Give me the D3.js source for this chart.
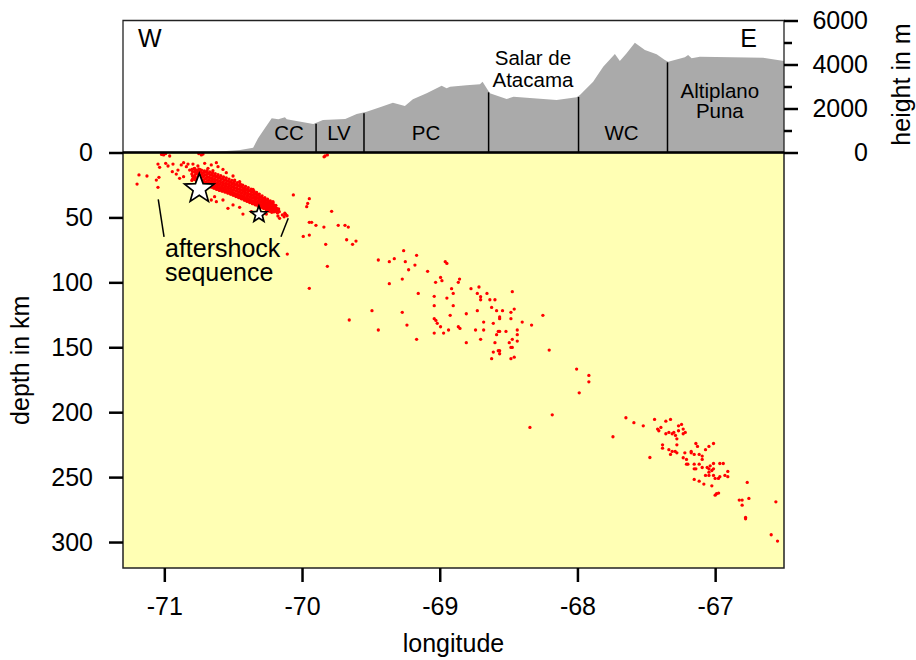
<!DOCTYPE html>
<html>
<head>
<meta charset="utf-8">
<script src="https://cdnjs.cloudflare.com/ajax/libs/d3/7.8.5/d3.min.js"></script>
<style>
  body { margin: 0; background: #fff; }
  text { font-family: "Liberation Sans", Arial, Helvetica, sans-serif; fill: #000; }
</style>
</head>
<body>
<script>
let w = 916;
let h = 660;

// longitude ticks, depth ticks, height ticks
var lonTicks = [-71, -70, -69, -68, -67];
var depthTicks = [0, 50, 100, 150, 200, 250, 300];
var heightTicks = [0, 2000, 4000, 6000];
var heightMinor = [1000, 3000, 5000];

// topography profile along the section (longitude, metres)
var profLon = [-71.30, -70.75, -70.60, -70.45, -70.355, -70.319, -70.270, -70.220, -70.172, -70.124, -70.111,
  -69.918, -69.848, -69.686, -69.603, -69.531, -69.434, -69.340, -69.253, -69.195, -69.095, -68.986,
  -68.950, -68.925, -68.805, -68.708, -68.689, -68.636, -68.514, -68.464, -68.345, -68.151, -68.006,
  -67.982, -67.886, -67.813, -67.728, -67.692, -67.643, -67.583, -67.510, -67.425, -67.365, -67.341,
  -67.220, -67.196, -67.171, -67.111, -66.652, -66.50];
var profElev = [0, 0, 50, 110, 218, 645, 1100, 1555, 1509, 1600, 1509,
  1295, 1477, 1523, 1750, 1855, 2055, 2264, 2114, 2418, 2691, 3036,
  2918, 2991, 3055, 3100, 3218, 2691, 2432, 2536, 2477, 2386, 2509,
  2614, 3218, 3900, 4477, 4159, 4509, 4991, 4659, 4464, 4205, 4127,
  4327, 4432, 4282, 4355, 4309, 4159];

// morphotectonic units
var unitBounds = [-69.898, -69.550, -68.645, -67.992, -67.346];
var unitNames = [["CC"], ["LV"], ["PC"], ["Salar de", "Atacama"], ["WC"], ["Altiplano", "Puna"]];
var unitCenters = [-70.095, -69.732, -69.100, -68.323, -67.680, -66.966];

// main shocks [lon, depth]
var mainShocks = [[-70.746, 28.0], [-70.313, 47.7]];

// dense aftershock band [lon, depth]
var aftershockBand = [
  [-70.80,13.0],[-70.80,16.5],[-70.79,19.8],[-70.80,21.5],
  [-70.785,12.5],[-70.78,15.0],[-70.78,18.2],[-70.775,21.0],
  [-70.77,13.6],[-70.765,16.0],[-70.76,19.4],[-70.765,22.4],
  [-70.75,12.9],[-70.745,15.3],[-70.75,17.8],[-70.74,20.6],[-70.745,23.0],
  [-70.73,13.5],[-70.725,16.4],[-70.72,19.0],[-70.73,21.7],[-70.72,23.8],
  [-70.71,14.2],[-70.705,17.0],[-70.70,20.1],[-70.71,22.6],[-70.70,24.6],
  [-70.69,13.9],[-70.685,16.2],[-70.69,18.6],[-70.68,21.4],[-70.685,23.9],[-70.68,25.7],
  [-70.67,14.9],[-70.665,17.5],[-70.67,20.0],[-70.66,22.3],[-70.665,24.8],[-70.66,26.6],
  [-70.65,15.6],[-70.645,18.3],[-70.65,21.0],[-70.64,23.2],[-70.645,25.5],[-70.64,27.5],
  [-70.63,16.2],[-70.625,19.0],[-70.63,21.8],[-70.62,24.1],[-70.625,26.4],[-70.62,28.4],
  [-70.61,17.1],[-70.605,19.8],[-70.61,22.5],[-70.60,24.9],[-70.605,27.2],[-70.60,29.2],
  [-70.59,17.9],[-70.585,20.6],[-70.59,23.2],[-70.58,25.6],[-70.585,27.9],[-70.58,29.8],
  [-70.57,18.8],[-70.565,21.5],[-70.57,24.0],[-70.56,26.3],[-70.565,28.6],[-70.56,30.5],
  [-70.55,19.6],[-70.545,22.3],[-70.55,24.9],[-70.54,27.1],[-70.545,29.3],[-70.54,31.2],
  [-70.53,20.5],[-70.525,23.1],[-70.53,25.7],[-70.52,27.9],[-70.525,30.1],[-70.52,32.0],
  [-70.51,21.4],[-70.505,24.0],[-70.51,26.5],[-70.50,28.8],[-70.505,31.0],[-70.50,32.9],
  [-70.49,22.3],[-70.485,24.9],[-70.49,27.4],[-70.48,29.7],[-70.485,31.9],[-70.48,33.9],
  [-70.47,23.3],[-70.465,25.8],[-70.47,28.3],[-70.46,30.6],[-70.465,32.8],[-70.46,34.8],
  [-70.45,24.2],[-70.445,26.8],[-70.45,29.2],[-70.44,31.5],[-70.445,33.7],[-70.44,35.7],
  [-70.43,25.2],[-70.425,27.7],[-70.43,30.1],[-70.42,32.4],[-70.425,34.6],[-70.42,36.6],
  [-70.41,26.1],[-70.405,28.6],[-70.41,31.0],[-70.40,33.3],[-70.405,35.5],[-70.40,37.6],
  [-70.39,27.1],[-70.385,29.6],[-70.39,32.0],[-70.38,34.3],[-70.385,36.4],[-70.38,38.5],
  [-70.37,28.3],[-70.365,30.7],[-70.37,33.0],[-70.36,35.2],[-70.365,37.3],[-70.36,39.4],
  [-70.35,29.5],[-70.345,31.8],[-70.35,34.0],[-70.34,36.2],[-70.345,38.3],[-70.34,40.3],
  [-70.33,30.8],[-70.325,33.0],[-70.33,35.1],[-70.32,37.2],[-70.325,39.2],[-70.32,41.2],
  [-70.31,32.0],[-70.305,34.1],[-70.31,36.2],[-70.30,38.2],[-70.305,40.1],[-70.30,42.2],
  [-70.29,33.4],[-70.285,35.4],[-70.29,37.3],[-70.28,39.2],[-70.285,41.1],[-70.28,43.0],
  [-70.27,34.7],[-70.265,36.6],[-70.27,38.5],[-70.26,40.3],[-70.265,42.1],[-70.26,44.0],
  [-70.25,36.0],[-70.245,37.9],[-70.25,39.7],[-70.24,41.4],[-70.245,43.2],[-70.24,45.0],
  [-70.23,37.3],[-70.225,39.1],[-70.23,40.9],[-70.22,42.6],[-70.225,44.3],[-70.22,46.0],
  [-70.21,38.8],[-70.205,40.6],[-70.21,42.4],[-70.20,44.1],[-70.205,45.8],
  [-70.19,40.7],[-70.185,42.8],[-70.19,44.6],[-70.18,46.4],
  [-70.17,43.5],[-70.165,45.6]
];

// more events filling the core of the band [lon, depth]
var aftershockCore = [
  [-70.795,14.7],[-70.795,18.1],[-70.795,20.8],
  [-70.775,14.3],[-70.775,17.0],[-70.775,19.8],
  [-70.755,14.1],[-70.755,16.6],[-70.755,19.0],[-70.755,21.6],
  [-70.735,14.9],[-70.735,17.6],[-70.735,20.3],[-70.735,22.8],
  [-70.715,15.4],[-70.715,18.3],[-70.715,21.1],[-70.715,23.4],
  [-70.695,15.1],[-70.695,17.4],[-70.695,19.9],[-70.695,22.5],[-70.695,24.8],
  [-70.675,16.1],[-70.675,18.8],[-70.675,21.2],[-70.675,23.6],[-70.675,25.9],
  [-70.655,16.9],[-70.655,19.6],[-70.655,22.1],[-70.655,24.4],[-70.655,26.5],
  [-70.635,17.6],[-70.635,20.4],[-70.635,23.0],[-70.635,25.3],[-70.635,27.4],
  [-70.615,18.4],[-70.615,21.1],[-70.615,23.7],[-70.615,26.1],[-70.615,28.2],
  [-70.595,19.2],[-70.595,21.9],[-70.595,24.4],[-70.595,26.8],[-70.595,28.8],
  [-70.575,20.1],[-70.575,22.8],[-70.575,25.2],[-70.575,27.5],[-70.575,29.6],
  [-70.555,20.9],[-70.555,23.6],[-70.555,26.0],[-70.555,28.3],[-70.555,30.3],
  [-70.535,21.8],[-70.535,24.4],[-70.535,26.9],[-70.535,29.1],[-70.535,31.1],
  [-70.515,22.7],[-70.515,25.3],[-70.515,27.7],[-70.515,30.0],[-70.515,32.0],
  [-70.495,23.6],[-70.495,26.2],[-70.495,28.6],[-70.495,30.9],[-70.495,32.9],
  [-70.475,24.5],[-70.475,27.1],[-70.475,29.5],[-70.475,31.8],[-70.475,33.8],
  [-70.455,25.5],[-70.455,28.0],[-70.455,30.4],[-70.455,32.7],[-70.455,34.7],
  [-70.435,26.4],[-70.435,28.9],[-70.435,31.3],[-70.435,33.6],[-70.435,35.6],
  [-70.415,27.4],[-70.415,29.8],[-70.415,32.2],[-70.415,34.5],[-70.415,36.6],
  [-70.395,28.4],[-70.395,30.8],[-70.395,33.2],[-70.395,35.4],[-70.395,37.5],
  [-70.375,29.5],[-70.375,31.9],[-70.375,34.1],[-70.375,36.3],[-70.375,38.4],
  [-70.355,30.6],[-70.355,32.9],[-70.355,35.1],[-70.355,37.3],[-70.355,39.3],
  [-70.335,31.9],[-70.335,34.0],[-70.335,36.1],[-70.335,38.2],[-70.335,40.2],
  [-70.315,33.0],[-70.315,35.1],[-70.315,37.2],[-70.315,39.1],[-70.315,41.0],
  [-70.295,34.3],[-70.295,36.2],[-70.295,38.2],[-70.295,40.1],[-70.295,42.0],
  [-70.275,35.6],[-70.275,37.5],[-70.275,39.3],[-70.275,41.1],[-70.275,43.0],
  [-70.255,36.9],[-70.255,38.8],[-70.255,40.5],[-70.255,42.3],[-70.255,44.0],
  [-70.235,38.2],[-70.235,40.0],[-70.235,41.8],[-70.235,43.5],[-70.235,45.2],
  [-70.215,39.7],[-70.215,41.5],[-70.215,43.3],[-70.215,45.0],
  [-70.195,41.7],[-70.195,43.6],[-70.195,45.4],
  [-70.175,44.2],[-70.175,46.0]
];

// scattered shallow events around the band [lon, depth]
var shallowEvents = [
  [-71.184,17.3],[-71.126,18.1],[-71.198,24.3],[-71.046,26.8],[-71.058,21.2],[-71.039,19.1],[-71.046,8.9],
  [-71.034,11.4],[-71.014,1.2],[-70.961,2.7],[-71.005,1.9],[-70.731,1.9],[-70.719,1.2],[-70.990,8.3],
  [-70.973,10.4],[-70.937,8.9],[-70.942,14.8],[-70.913,16.6],[-70.901,13.5],[-70.877,9.6],[-70.860,7.8],
  [-70.840,10.9],[-70.828,8.9],[-70.860,18.6],[-70.889,19.9],[-70.816,13.5],[-70.792,8.9],[-70.780,12.2],
  [-70.756,10.4],[-70.743,13.0],[-70.707,8.3],[-70.683,12.2],[-70.659,9.6],[-70.622,7.8],[-70.610,10.9],
  [-70.647,14.0],[-70.574,13.0],[-70.550,15.5],[-70.501,18.1],[-70.489,21.2],[-70.453,22.5],[-70.441,25.0],
  [-70.417,29.4],[-70.356,28.4],[-70.332,30.9],[-70.284,36.6],[-70.235,38.6],[-70.211,37.9],
  [-70.659,36.6],[-70.622,37.9],[-70.574,36.6],[-70.538,43.0],[-70.501,40.4],[-70.453,42.2],[-70.429,47.4],
  [-70.368,45.6],[-70.259,47.4],[-70.223,43.0],[-70.187,44.8],[-70.175,48.9],[-70.143,48.1],[-70.119,47.6],
  [-70.109,48.7],[-70.163,50.7],[-70.792,32.7],[-70.635,34.0],[-70.13,49.5],[-70.125,46.8],
  [-71.02,1.5],[-70.99,0.8],[-70.75,0.8]
];

// intermediate depth slab events [lon, depth]
var slabEvents = [
  [-69.833,2.7],[-69.816,1.9],[-69.840,3.3],[-70.063,32.7],[-69.947,35.6],[-69.959,39.2],[-69.966,41.7],
  [-69.785,45.3],[-69.947,53.8],[-69.930,53.8],[-69.899,56.1],[-69.841,57.4],[-69.737,56.1],[-69.688,56.1],
  [-69.664,57.4],[-69.991,64.6],[-69.947,63.6],[-69.676,67.2],[-69.608,68.2],[-69.633,70.7],[-69.828,70.7],
  [-70.107,78.2],[-69.816,87.7],[-69.947,104.6],[-69.657,129.0],[-69.446,82.8],[-69.366,84.1],[-69.330,81.8],
  [-69.262,75.6],[-69.250,84.1],[-69.168,79.2],[-69.180,86.7],[-69.226,90.3],[-69.366,101.0],[-69.272,97.5],
  [-69.088,91.5],[-68.960,84.1],[-68.948,85.4],[-68.994,96.2],[-68.984,98.7],[-69.030,100.0],[-68.856,97.5],
  [-68.865,100.0],[-68.914,104.9],[-68.902,108.5],[-69.040,110.8],[-68.948,112.1],[-69.156,108.5],[-69.040,118.0],
  [-68.902,118.0],[-68.773,104.9],[-68.715,103.6],[-68.727,108.5],[-68.703,111.1],[-68.703,113.4],[-68.657,108.5],
  [-68.636,113.4],[-68.599,113.4],[-68.473,107.2],[-68.623,119.3],[-68.587,121.8],[-68.544,121.8],[-68.483,123.1],
  [-68.459,120.6],[-68.565,126.7],[-68.565,128.0],[-68.483,128.0],[-68.401,130.6],[-68.333,132.9],[-68.251,125.4],
  [-68.924,125.4],[-68.807,124.2],[-68.727,121.8],[-68.681,130.6],[-68.611,131.6],[-69.040,128.0],[-69.028,129.3],
  [-69.018,131.6],[-68.994,134.2],[-68.936,136.7],[-68.865,134.2],[-68.853,135.5],[-69.040,139.1],[-68.972,139.1],
  [-68.740,136.7],[-68.681,136.7],[-68.587,140.3],[-68.575,137.8],[-68.565,137.8],[-68.519,137.8],[-68.437,136.7],
  [-68.437,140.3],[-68.473,143.9],[-68.437,145.2],[-68.495,146.5],[-68.599,146.5],[-68.703,143.9],[-68.807,146.5],
  [-68.611,153.7],[-68.575,152.7],[-68.565,152.7],[-68.565,155.0],[-68.483,150.1],[-68.473,150.1],[-68.459,157.6],
  [-68.483,158.8],[-68.623,158.8],[-69.492,121.8],[-69.446,136.7],[-69.272,123.1],[-69.238,132.9],[-69.168,143.9]
];

// deep slab events [lon, depth]
var deepEvents = [
  [-68.205,152.2],[-68.006,166.8],[-67.917,171.7],[-67.917,176.6],[-67.987,185.1],[-68.183,202.0],[-68.345,211.7],
  [-67.742,218.9],[-67.648,204.3],[-67.590,208.1],[-67.522,210.5],[-67.474,234.9],[-67.440,205.6],[-67.418,213.0],
  [-67.409,214.3],[-67.394,211.7],[-67.358,206.9],[-67.324,205.6],[-67.358,216.6],[-67.336,215.6],[-67.312,216.6],
  [-67.300,215.6],[-67.288,217.9],[-67.266,214.3],[-67.266,210.5],[-67.244,209.4],[-67.232,213.0],[-67.232,216.6],
  [-67.217,215.6],[-67.278,220.5],[-67.382,225.1],[-67.382,227.7],[-67.336,228.9],[-67.312,230.2],[-67.290,230.2],
  [-67.278,231.3],[-67.324,232.5],[-67.278,225.1],[-67.232,235.1],[-67.208,236.4],[-67.220,231.3],[-67.174,230.2],
  [-67.174,231.3],[-67.152,232.5],[-67.140,224.1],[-67.128,226.4],[-67.116,232.5],[-67.094,233.8],[-67.094,236.4],
  [-67.070,228.9],[-67.045,226.4],[-67.012,224.1],[-67.208,240.0],[-67.198,240.0],[-67.152,240.0],[-67.116,240.0],
  [-67.152,243.6],[-67.140,243.6],[-67.094,242.6],[-67.058,242.6],[-67.045,243.6],[-67.036,241.3],[-67.024,244.9],
  [-67.012,243.6],[-67.012,239.5],[-66.966,239.5],[-66.941,239.5],[-67.045,246.2],[-67.045,248.7],[-67.070,248.7],
  [-67.012,248.7],[-67.000,251.0],[-66.976,251.0],[-66.966,249.7],[-66.929,248.7],[-66.908,245.6],[-66.908,249.7],
  [-67.152,251.8],[-67.116,253.1],[-67.082,255.4],[-67.024,256.7],[-67.000,263.9],[-66.990,262.8],[-66.975,262.3],
  [-66.767,254.1],[-66.825,267.7],[-66.804,267.7],[-66.804,271.6],[-66.755,266.4],[-66.779,281.1],[-66.779,282.1],
  [-66.559,269.0],[-66.593,294.4],[-66.547,299.3]
];

var svg = d3.select("body").append("svg")
    .attr("width", w)
    .attr("height", h);

var x = d3.scaleLinear().domain([-71.3, -66.5]).range([123, 784]);
var yDepth = d3.scaleLinear().domain([0, 320]).range([152.5, 568]);
var yHeight = d3.scaleLinear().domain([0, 6000]).range([152.5, 20.5]);

var font = "'Liberation Sans', Arial, Helvetica, sans-serif";

// depth panel background
svg.append("rect")
    .attr("x", x(-71.3)).attr("y", yDepth(0))
    .attr("width", x(-66.5) - x(-71.3)).attr("height", yDepth(320) - yDepth(0))
    .attr("fill", "#ffffb4");

// topography
var profile = profLon.map((d, i) => [d, profElev[i]]);
var area = d3.area()
    .x(d => x(d[0]))
    .y0(yHeight(0))
    .y1(d => yHeight(d[1]));
svg.append("path").datum(profile)
    .attr("d", area)
    .attr("fill", "#aaaaaa");

var interpElev = (lon) => {
    let i = d3.bisectLeft(profLon, lon);
    let t = (lon - profLon[i - 1]) / (profLon[i] - profLon[i - 1]);
    return profElev[i - 1] + t * (profElev[i] - profElev[i - 1]);
};

svg.selectAll("line.unit").data(unitBounds).enter().append("line")
    .attr("class", "unit")
    .attr("x1", d => x(d)).attr("x2", d => x(d))
    .attr("y1", d => yHeight(interpElev(d)) + 1).attr("y2", yHeight(0))
    .attr("stroke", "#000").attr("stroke-width", 1.5);

// unit labels
var unitLabelY = [[140], [140], [140], [65, 87], [140], [97.5, 117.5]];
unitNames.forEach((lines, i) => {
    lines.forEach((t, j) => {
        svg.append("text")
            .attr("x", x(unitCenters[i]))
            .attr("y", unitLabelY[i][j])
            .attr("text-anchor", "middle")
            .style("font-size", "20.5px")
            .text(t);
    });
});

svg.append("text").attr("x", 138).attr("y", 47).style("font-size", "25px").text("W");
svg.append("text").attr("x", 757).attr("y", 47).attr("text-anchor", "end").style("font-size", "25px").text("E");

// top panel frame
svg.append("path")
    .attr("d", `M${x(-71.3)},${yHeight(0)}V${yHeight(6000)}H${x(-66.5)}V${yHeight(0)}`)
    .attr("fill", "none").attr("stroke", "#222").attr("stroke-width", 1.3);

// earthquakes
var allEvents = shallowEvents.concat(aftershockBand, aftershockCore, slabEvents, deepEvents);
svg.append("g").selectAll("circle").data(allEvents).enter().append("circle")
    .attr("cx", d => x(d[0]))
    .attr("cy", d => yDepth(d[1]))
    .attr("r", 1.65)
    .attr("fill", "#ff0000");

// main shocks as stars
var star = (R) => {
    let pts = [];
    for (let k = 0; k < 10; k++) {
        let r = k % 2 === 0 ? R : R * 0.42;
        let a = -Math.PI / 2 + k * Math.PI / 5;
        pts.push([r * Math.cos(a), r * Math.sin(a)]);
    }
    return "M" + pts.map(p => p.join(",")).join("L") + "Z";
};
var starR = [15.5, 8.5];
svg.selectAll("path.star").data(mainShocks).enter().append("path")
    .attr("class", "star")
    .attr("transform", d => `translate(${x(d[0])},${yDepth(d[1])})`)
    .attr("d", (d, i) => star(starR[i]))
    .attr("fill", "#fff").attr("stroke", "#000").attr("stroke-width", 1.7)
    .attr("stroke-linejoin", "miter");

// aftershock annotation
var leaders = [[[-71.044, 36.1], [-71.002, 64.9]], [[-70.100, 50.7], [-70.153, 64.9]]];
svg.selectAll("line.leader").data(leaders).enter().append("line")
    .attr("class", "leader")
    .attr("x1", d => x(d[0][0])).attr("y1", d => yDepth(d[0][1]))
    .attr("x2", d => x(d[1][0])).attr("y2", d => yDepth(d[1][1]))
    .attr("stroke", "#000").attr("stroke-width", 1.5);
svg.append("text").attr("x", 165).attr("y", 257).style("font-size", "25px").text("aftershock");
svg.append("text").attr("x", 165).attr("y", 280.5).style("font-size", "25px").text("sequence");

// depth panel frame
svg.append("rect")
    .attr("x", x(-71.3)).attr("y", yDepth(0))
    .attr("width", x(-66.5) - x(-71.3)).attr("height", yDepth(320) - yDepth(0))
    .attr("fill", "none").attr("stroke", "#222").attr("stroke-width", 1.5);

// zero line between panels
svg.append("line")
    .attr("x1", x(-71.3)).attr("x2", x(-66.5))
    .attr("y1", yDepth(0)).attr("y2", yDepth(0))
    .attr("stroke", "#000").attr("stroke-width", 2.5);

var styleAxis = (g) => {
    g.select(".domain").remove();
    g.selectAll(".tick line").attr("stroke", "#000").attr("stroke-width", 2.5);
    g.selectAll("text").attr("font-family", font).attr("font-size", 25).attr("fill", "#000");
};

svg.append("g")
    .attr("transform", `translate(0,${yDepth(320)})`)
    .call(d3.axisBottom(x).tickValues(lonTicks).tickSize(14).tickPadding(15).tickFormat(d => String(d)))
    .call(styleAxis);

svg.append("g")
    .attr("transform", `translate(${x(-71.3)},0)`)
    .call(d3.axisLeft(yDepth).tickValues(depthTicks).tickSize(14).tickPadding(16).tickFormat(d => String(d)))
    .call(styleAxis);

svg.append("g")
    .attr("transform", `translate(${x(-66.5)},0)`)
    .call(d3.axisRight(yHeight).tickValues(heightTicks).tickSize(14).tickPadding(16).tickFormat(d => String(d)))
    .call(styleAxis)
    .call(g => g.selectAll("text").attr("text-anchor", "end").attr("x", 84));

svg.append("g")
    .attr("transform", `translate(${x(-66.5)},0)`)
    .call(d3.axisRight(yHeight).tickValues(heightMinor).tickSize(8).tickFormat(""))
    .call(styleAxis);

// axis titles
svg.append("text").attr("x", (x(-71.3) + x(-66.5)) / 2).attr("y", 652)
    .attr("text-anchor", "middle").style("font-size", "25px").text("longitude");
svg.append("text")
    .attr("transform", `translate(29,${(yDepth(0) + yDepth(320)) / 2}) rotate(-90)`)
    .attr("text-anchor", "middle").style("font-size", "25px").text("depth in km");
svg.append("text")
    .attr("transform", `translate(910,${(yHeight(0) + yHeight(6000)) / 2 - 2}) rotate(-90)`)
    .attr("text-anchor", "middle").style("font-size", "25px").text("height in m");
</script>
</body>
</html>
